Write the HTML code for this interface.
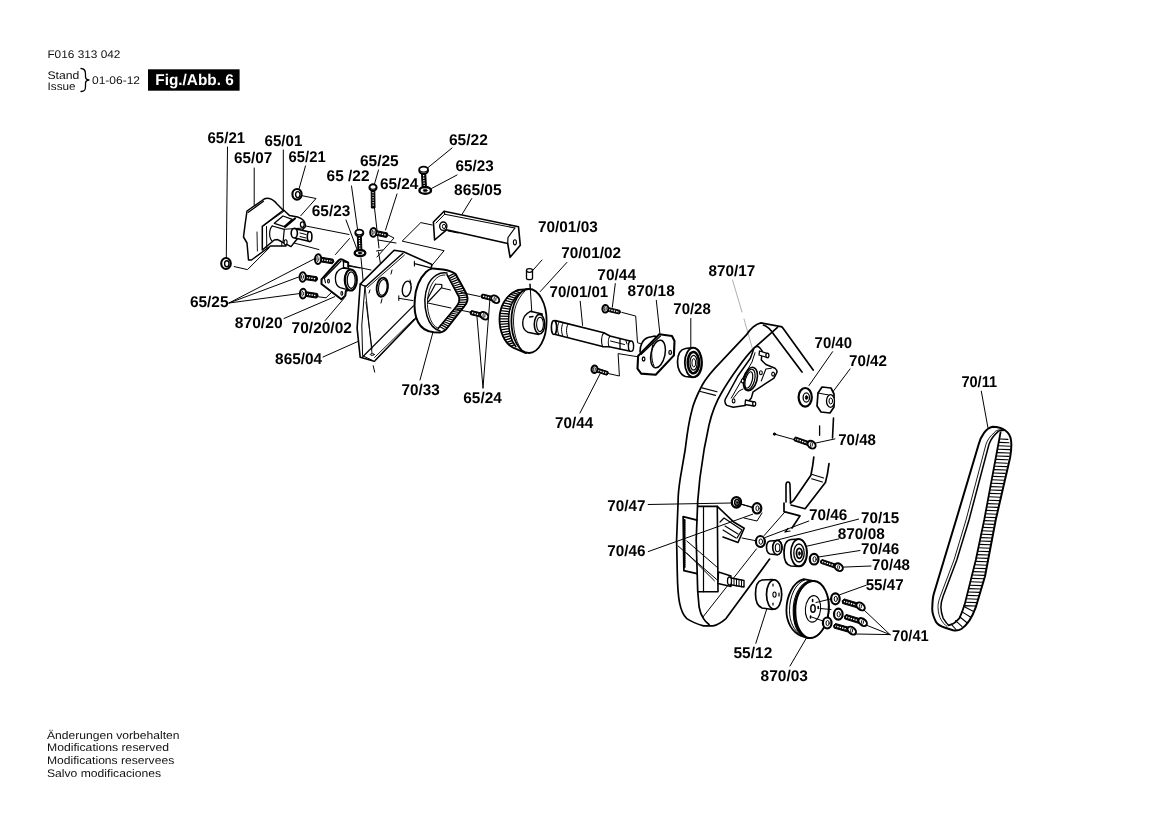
<!DOCTYPE html>
<html><head><meta charset="utf-8"><style>
html,body{margin:0;padding:0;background:#fff;width:1168px;height:826px;overflow:hidden}
svg{position:absolute;left:0;top:0;display:block;filter:grayscale(1)}
text{text-rendering:geometricPrecision}
</style></head><body>
<svg width="1168" height="826" viewBox="0 0 1168 826">
<g font-family="'Liberation Sans', sans-serif" fill="#111" opacity="0.995">
<text x="47.4" y="57.6" font-size="11" textLength="73" lengthAdjust="spacingAndGlyphs">F016 313 042</text>
<text x="47.4" y="78.7" font-size="11" textLength="32" lengthAdjust="spacingAndGlyphs">Stand</text>
<text x="47.6" y="89.8" font-size="11" textLength="28" lengthAdjust="spacingAndGlyphs">Issue</text>
<text x="92" y="84" font-size="11" textLength="48" lengthAdjust="spacingAndGlyphs">01-06-12</text>
<rect x="148" y="69.3" width="91.6" height="21.4" fill="#000"/>
<text x="155.3" y="85" font-size="15.5" font-weight="bold" fill="#fff" textLength="78.5" lengthAdjust="spacingAndGlyphs">Fig./Abb. 6</text>
<text x="47" y="738.5" font-size="11" textLength="132.5" lengthAdjust="spacingAndGlyphs">Änderungen vorbehalten</text>
<text x="47" y="751.2" font-size="11" textLength="122" lengthAdjust="spacingAndGlyphs">Modifications reserved</text>
<text x="47" y="764" font-size="11" textLength="127.2" lengthAdjust="spacingAndGlyphs">Modifications reservees</text>
<text x="47" y="776.8" font-size="11" textLength="114" lengthAdjust="spacingAndGlyphs">Salvo modificaciones</text>
</g>
<g font-family="'Liberation Sans', sans-serif" font-weight="bold" font-size="15.5" fill="#000" opacity="0.995">
<text x="207.5" y="142.7" textLength="37.6" lengthAdjust="spacingAndGlyphs">65/21</text>
<text x="264.6" y="146.0" textLength="37.7" lengthAdjust="spacingAndGlyphs">65/01</text>
<text x="234.1" y="163.4" textLength="38.2" lengthAdjust="spacingAndGlyphs">65/07</text>
<text x="288.6" y="161.6" textLength="37.1" lengthAdjust="spacingAndGlyphs">65/21</text>
<text x="449.0" y="144.8" textLength="38.8" lengthAdjust="spacingAndGlyphs">65/22</text>
<text x="359.9" y="165.9" textLength="38.8" lengthAdjust="spacingAndGlyphs">65/25</text>
<text x="326.6" y="181.1" textLength="42.9" lengthAdjust="spacingAndGlyphs">65 /22</text>
<text x="379.9" y="188.7" textLength="38.5" lengthAdjust="spacingAndGlyphs">65/24</text>
<text x="455.6" y="170.8" textLength="38.2" lengthAdjust="spacingAndGlyphs">65/23</text>
<text x="454.1" y="194.7" textLength="47.6" lengthAdjust="spacingAndGlyphs">865/05</text>
<text x="311.8" y="216.2" textLength="38.6" lengthAdjust="spacingAndGlyphs">65/23</text>
<text x="189.9" y="306.7" textLength="38.6" lengthAdjust="spacingAndGlyphs">65/25</text>
<text x="234.8" y="327.9" textLength="47.8" lengthAdjust="spacingAndGlyphs">870/20</text>
<text x="291.6" y="332.8" textLength="60.3" lengthAdjust="spacingAndGlyphs">70/20/02</text>
<text x="275.1" y="363.5" textLength="47.1" lengthAdjust="spacingAndGlyphs">865/04</text>
<text x="537.9" y="231.9" textLength="59.9" lengthAdjust="spacingAndGlyphs">70/01/03</text>
<text x="561.3" y="258.0" textLength="59.7" lengthAdjust="spacingAndGlyphs">70/01/02</text>
<text x="597.3" y="279.6" textLength="38.7" lengthAdjust="spacingAndGlyphs">70/44</text>
<text x="549.6" y="296.8" textLength="58.6" lengthAdjust="spacingAndGlyphs">70/01/01</text>
<text x="401.6" y="394.9" textLength="38.2" lengthAdjust="spacingAndGlyphs">70/33</text>
<text x="463.3" y="403.0" textLength="38.6" lengthAdjust="spacingAndGlyphs">65/24</text>
<text x="555.1" y="428.1" textLength="38.1" lengthAdjust="spacingAndGlyphs">70/44</text>
<text x="627.6" y="296.1" textLength="47.2" lengthAdjust="spacingAndGlyphs">870/18</text>
<text x="673.3" y="313.6" textLength="37.5" lengthAdjust="spacingAndGlyphs">70/28</text>
<text x="708.5" y="276.0" textLength="46.7" lengthAdjust="spacingAndGlyphs">870/17</text>
<text x="814.6" y="347.5" textLength="37.4" lengthAdjust="spacingAndGlyphs">70/40</text>
<text x="849.0" y="365.5" textLength="38.0" lengthAdjust="spacingAndGlyphs">70/42</text>
<text x="838.2" y="444.6" textLength="37.7" lengthAdjust="spacingAndGlyphs">70/48</text>
<text x="809.1" y="519.7" textLength="38.3" lengthAdjust="spacingAndGlyphs">70/46</text>
<text x="861.0" y="522.9" textLength="38.1" lengthAdjust="spacingAndGlyphs">70/15</text>
<text x="837.7" y="539.0" textLength="47.1" lengthAdjust="spacingAndGlyphs">870/08</text>
<text x="861.0" y="554.0" textLength="38.1" lengthAdjust="spacingAndGlyphs">70/46</text>
<text x="872.1" y="570.4" textLength="37.9" lengthAdjust="spacingAndGlyphs">70/48</text>
<text x="865.7" y="589.8" textLength="37.9" lengthAdjust="spacingAndGlyphs">55/47</text>
<text x="892.0" y="641.2" textLength="36.8" lengthAdjust="spacingAndGlyphs">70/41</text>
<text x="607.3" y="510.5" textLength="38.2" lengthAdjust="spacingAndGlyphs">70/47</text>
<text x="607.3" y="556.2" textLength="38.2" lengthAdjust="spacingAndGlyphs">70/46</text>
<text x="733.4" y="657.8" textLength="38.9" lengthAdjust="spacingAndGlyphs">55/12</text>
<text x="760.6" y="680.5" textLength="47.4" lengthAdjust="spacingAndGlyphs">870/03</text>
<text x="961.4" y="387.2" textLength="35.7" lengthAdjust="spacingAndGlyphs">70/11</text>
</g>
<g fill="none" stroke="#000" stroke-linecap="round" stroke-linejoin="round">
<!-- header brace -->
<path d="M81,68.5 C85,68.5 85.5,71 85.5,74 L85.5,76.5 C85.5,79 86.5,79.8 89,80 C86.5,80.2 85.5,81 85.5,83.5 L85.5,86.5 C85.5,89.5 85,91.5 81,91.5" stroke-width="1.3"/>

<!-- ===== Leader lines (thin) ===== -->
<g stroke-width="1">
<path d="M227.5,147 L226.3,258"/>
<path d="M254.2,168 L254.2,205"/>
<path d="M283.3,150 L283.3,211"/>
<path d="M305.5,166 L299,189"/>
<!-- motor assembly lines -->
<path d="M302,195.7 L316,198.5 L300.8,215.7"/>
<path d="M305.7,226 L349,234.5"/>
<path d="M294,243 L319,249.6"/>
<path d="M234.2,266.6 L247.5,269.6 L269.3,247.8"/>
<!-- 65/25 leaders -->
<path d="M229,303 L315,258.5 M229,303 L300,276.5 M229,303 L300,293.5"/>
<!-- 870/20, 70/20/02, 865/04 leaders -->
<path d="M284,318.5 L334.7,296.7"/>
<path d="M317.8,296.7 L326,297.8 L332.6,291.4"/>
<path d="M325.2,320.5 L344.3,298"/>
<path d="M323,357 L359,341"/>
<!-- 65/23 left leader -->
<path d="M346,220 L358,252"/>
<path d="M349.5,238.5 L335.5,254.5"/>
<!-- 65 /22 leader -->
<path d="M351.5,186 L357.5,229"/>
<!-- 65/25 top leader -->
<path d="M378.5,170 L374.5,184"/>
<path d="M374.5,208 L379,248 M378.5,252 L381,267 M376.5,251 L382.5,250"/>
<!-- 65/24 leader -->
<path d="M397,194 L385.5,230"/>
<path d="M388,235 L394,238 L377,257"/>
<!-- 65/23 line down from washer -->
<path d="M361,258 L364,290 M373.2,365.8 L374.7,372.1"/>
<path d="M359,340 L362,310"/>
<!-- 65/22 and 65/23 leaders -->
<path d="M452,148 L427.5,168"/>
<path d="M457,175 L431.5,188.5"/>
<path d="M471.7,198.6 L462.1,214.2"/>
<!-- assembly parallelogram near 865/05 -->
<path d="M432.2,225 L420.8,222.6 L402.2,241.1 L444.1,250.7 L432.2,265.1"/>
<!-- motor axis lines through bracket -->
<path d="M348,266 L360,268"/>
<path d="M378,240 L396,243"/>
<!-- flange to bracket line -->
<path d="M347,265 L371,270"/>
<!-- 70/33 leader -->
<path d="M420,380 L433,332"/>
<!-- belt axis lines -->
<!-- 65/24 lower leaders -->
<path d="M483,388 L490,298 M483,388 L477,317"/>
<!-- 70/01/03, 70/01/02 leaders -->
<path d="M542,260 L531.8,271.5"/>
<path d="M566.9,262.4 L540.3,291.5"/>
<path d="M530,284.2 L531.8,313.3"/>
<!-- 70/01/01 leader -->
<path d="M580.2,301.2 L582.6,325.4"/>
<!-- 70/44 top leader, assembly -->
<path d="M615.3,283.6 L612.3,307.2"/>
<path d="M621.8,312.4 L635.7,316 L637.5,342.7 L641.2,343.9"/>
<path d="M608.5,373.6 L619.4,376 L618.1,353.6 L636.9,356.6"/>
<!-- 70/44 bottom leader -->
<path d="M580,413 L600,374"/>
<!-- 870/18 leader -->
<path d="M656.3,300.3 L659.9,333.6"/>
<!-- 70/28 leader -->
<path d="M690.8,318.5 L690.8,347"/>
<!-- 870/17 leader (light) -->
<path d="M732.5,280 L742,312 M744,319 L752.5,349" stroke="#99a" stroke-width="0.8"/>
<!-- 70/40, 70/42 leaders -->
<path d="M832.6,351.7 L809,385.5"/>
<path d="M850,369 L832,393"/>
<!-- 70/48 screw -->
<path d="M774.5,434.1 L794.2,439.6"/>
<path d="M814.5,443.3 L834.9,438.9"/>
<path d="M819.6,425.8 L819.6,435.3" stroke-width="1.3"/>
<path d="M833.5,418 L832.5,438" stroke-width="1.6"/>
<!-- 70/47 and 70/46 left leaders -->
<path d="M648.2,504.5 L732,503"/>
<path d="M740,504 L752,507"/>
<path d="M648.2,551.6 L752.7,514.2"/>
<path d="M762,513 L757,521 L744,518"/>
<!-- tensioner leaders -->
<path d="M765.2,537.5 L808.8,521"/>
<path d="M775.9,540.4 L858.6,519.1"/>
<path d="M764.2,535.5 L784.6,512.3"/>
<path d="M806.8,546.2 L838.8,538.9"/>
<path d="M818.5,557 L860,550.5"/>
<path d="M841,567.2 L871,566"/>
<path d="M742,538 L757,541"/>
<!-- 55/47, 70/41 leaders -->
<path d="M866,585.3 L839.8,594.7"/>
<path d="M890,634.6 L864,610 M890,634.6 L866,625 M890,634.6 L855.5,634"/>
<!-- 55/12, 870/03 leaders -->
<path d="M767.4,607 L755.8,643.3"/>
<path d="M807,637 L790,666"/>
<!-- 70/11 leader -->
<path d="M981.3,391.2 L988,428"/>
</g>
<!-- ===== Motor 65/07 / 65/01 ===== -->
<g stroke-width="1.5" fill="#fff">
<!-- plate -->
<path d="M247,211 L262,200.5 C266,197 272,197.5 277,204 L283,210 L286,246 L270.5,246 L251.5,260 L248.5,260 L247,243 L243.5,237 L245,225 Z"/>
<path d="M248.3,212.3 L263.5,201.3" stroke-width="1.3"/>
<path d="M257,232 L257.4,251" stroke-width="0.9"/>
<!-- body -->
<path d="M262.3,226.3 L283.6,210 L289.6,215.6 L297.6,217 C301,218 304,220 305,223.3 C306,226 305,228 303.6,228 L300,236 L296.3,240 L291,246.6 L280.3,241 L277.6,239.6 L274.3,240 L262.3,250 Z"/>
<path d="M264.3,225 L283.6,211.5 M266.5,226.5 L266.8,248.5" stroke-width="1"/>
<path d="M274.3,223.3 L283,216 L292.3,219.3 L284.3,226.6 Z" stroke-width="1.3"/>
<path d="M285,226.8 L295,218.5" stroke-width="2.2"/>
<path d="M272.3,226 L284.3,229.3 L283,242.6" stroke-width="1.2"/>
<path d="M272.3,226 C269,229 268.5,238 272.3,241.3" stroke-width="1.2"/>
<path d="M284.3,229.3 L303.6,228" stroke-width="1.1"/>
<path d="M281.8,241.5 L281.8,246" stroke-width="1"/>
<ellipse cx="302.3" cy="224.6" rx="1.9" ry="2.8" stroke-width="1.3"/>
<ellipse cx="285.6" cy="242.3" rx="1.5" ry="2.6" stroke-width="1.1"/>
<!-- shaft -->
<path d="M295,228.6 L309.6,232 L308.8,241.3 L295,238 Z" stroke-width="1.6"/>
<ellipse cx="294.3" cy="233.2" rx="3.1" ry="4.8" stroke-width="1.6"/>
<ellipse cx="309.6" cy="236.7" rx="2.3" ry="4.9" stroke-width="1.6"/>
<path d="M300,233 L306,234.5 M300,236.5 L306,238" stroke-width="1"/>
</g>
<!-- nuts 65/21 -->
<g stroke-width="2.1" fill="#fff">
<ellipse cx="297" cy="194.3" rx="4.6" ry="5.3"/>
<ellipse cx="297.8" cy="194.6" rx="2.2" ry="3" stroke-width="1.4"/>
<path d="M293.5,191 L295,190 M293.5,198 L295,199" stroke-width="1"/>
<ellipse cx="226" cy="263.5" rx="4.8" ry="5.5"/>
<ellipse cx="226.8" cy="263.7" rx="2.2" ry="3" stroke-width="1.4"/>
</g>

<!-- ===== Bracket 865/04 ===== -->
<g stroke-width="1.6" fill="#fff">
<path d="M360.2,284.1 L394.1,250.2 L403.5,251.8 L432,264.5 L430,272 L416,318 L374.4,361.3 L360.2,357.3 L357.1,328.2 Z"/>
<path d="M365.7,286.5 L403,253.2" stroke-width="1.4"/>
<path d="M367.5,287.5 L404.5,255" stroke-width="0.9"/>
<path d="M360.2,284.1 L365.7,286.5" stroke-width="1.2"/>
<path d="M365,285.7 L361.8,325 L362.6,355.7 L374.4,361.3" stroke-width="1"/>
<path d="M365,286 L372,353.4" stroke-width="0.9"/>
<path d="M362.5,357 L413.4,305.8" stroke-width="1.2"/>
<path d="M366,302 L372,349" stroke-width="0.9"/>
<ellipse cx="372.3" cy="354.5" rx="2" ry="0.9" stroke-width="1"/>
<path d="M374.5,357.5 L414,319" stroke-width="0.9"/>
<ellipse cx="382.3" cy="287.2" rx="5.6" ry="9.6" transform="rotate(8 382.3 287.2)" stroke-width="1.9"/>
<ellipse cx="382.8" cy="287.4" rx="4.2" ry="8" transform="rotate(8 382.8 287.4)" stroke-width="1.1"/>
<ellipse cx="406.7" cy="288.8" rx="4.3" ry="7.8" transform="rotate(10 406.7 288.8)" stroke-width="1.4"/>
<path d="M410,280 L411,284 M370,290 L369,293 M382,299 L381,303 M392,270 L391,274" stroke-width="1"/>
<path d="M398.8,298.3 L413,300.6 M398.8,295.8 L398.8,300.5" stroke-width="1"/>
<path d="M414.6,263.6 L430,267.6 M414.4,261.2 L414.4,266" stroke-width="1.1"/>
</g>

<!-- ===== Flange 870/20 ===== -->
<g stroke-width="2" fill="#fff">
<path d="M321.5,279.4 L338.5,260.5 C339.5,259.2 341,259 342.5,259.6 L348.2,262.6 L348.2,268.4 L352,272 L349,289.9 L345.9,291 L345.3,295.7 L341.3,299.2 L321.5,284 Z"/>
<path d="M324.4,278.2 L341,261" stroke-width="1.2"/>
<path d="M324.4,278.2 L325.5,282.8" stroke-width="1.1"/>
<path d="M343,261.5 L348.2,262.6 M343.5,261.6 L343.5,267.5 L348.2,268.4" stroke-width="1.3"/>
<path d="M342.4,268.1 C337,270 335.4,274 335.4,278.3 C335.4,283 337,286.5 340.1,287.6 L348.2,289.9 L350.6,269.2 Z" stroke-width="1.3"/>
<ellipse cx="350.8" cy="280" rx="6" ry="10.5" stroke-width="2.2"/>
<ellipse cx="351.2" cy="280.2" rx="4" ry="8.3" stroke-width="1.3"/>
<ellipse cx="328.5" cy="281.2" rx="0.9" ry="1.8" stroke-width="1.1"/>
<ellipse cx="341.8" cy="293.4" rx="0.9" ry="1.8" stroke-width="1.1"/>
</g>
<!-- ===== Bracket 865/05 ===== -->
<g stroke-width="1.6" fill="#fff">
<path d="M433.4,222 L444.1,211.2 L518.5,226.8 L520.3,245.3 L510.1,257.3 L507.7,243.5 L446.5,229.8 L434.6,240 Z"/>
<path d="M444.7,214.2 L514.9,228 M444.1,211.2 L444.7,214.2" stroke-width="1.1"/>
<path d="M514.9,228 L508,237.5 L507.7,243.5" stroke-width="1.2"/>
<path d="M436,223 L444.7,214.2" stroke-width="1"/>
<ellipse cx="443.3" cy="226.2" rx="3.6" ry="4.2" stroke-width="1.4"/>
<ellipse cx="444" cy="226.4" rx="1.6" ry="2.2" stroke-width="1"/>
<ellipse cx="514.9" cy="242.3" rx="1.5" ry="2.6" stroke-width="1.1"/>
<path d="M448,231 L458,233" stroke-width="1"/>
</g>

<!-- ===== Shaft 70/01/01 ===== -->
<g stroke-width="1.6" fill="#fff">
<path d="M555.4,320.6 L603.8,332.7 L609.9,336 L630,341 L630.5,351.3 L609,346.8 L602.6,346.6 L555.4,334.5 Z"/>
<ellipse cx="554" cy="327.5" rx="2.6" ry="7" stroke-width="1.6"/>
<path d="M559,322 C557,326 557,331 559,335.5 M563,323 C561,327 561,332 563,336.5 M568,324 C566,328 566,333 568,337.5" stroke-width="1"/>
<path d="M603.8,332.7 C601,336 601,343 602.6,346.6 M609.9,336 C608,339 608,344 609,346.8" stroke-width="1.1"/>
<path d="M620,339.5 L620,349" stroke-width="1.3"/>
<path d="M610.5,341 L624.5,344.5" stroke-width="1"/>
<ellipse cx="631" cy="346.2" rx="2.6" ry="5.2" stroke-width="1.4"/>
<path d="M626,341 L627,344" stroke-width="1"/>
</g>

<!-- ===== Flange 870/18 ===== -->
<g stroke-width="2.1" fill="#fff">
<path d="M640,352 C640,345 643,339 648,337.5 L655,336 L660,345 L650,360 Z" stroke-width="1.6"/>
<path d="M638.1,356 L659.3,334.2 L672,336 L674.5,340.9 L673.9,355.4 L655.7,374.8 L641.2,373.6 L637.5,368.7 Z"/>
<path d="M641,354.5 L660.5,336" stroke-width="1.1"/>
<ellipse cx="658" cy="354" rx="7" ry="14" transform="rotate(12 658 354)" stroke-width="1.5"/>
<path d="M653.5,342 C651,349 651,360 654,366" stroke-width="1" fill="none"/>
<ellipse cx="643.6" cy="359" rx="1.3" ry="2" stroke-width="1.3"/>
<ellipse cx="670.2" cy="352.4" rx="1.3" ry="2" stroke-width="1.3"/>
</g>
<!-- ===== Bearing 70/28 ===== -->
<g stroke-width="1.7" fill="#fff">
<path d="M685.5,348.5 L693,347.7 C699,348 702,355 702,362.7 C702,371 699,377 693,377.3 L685.5,376.5 C680,375 677.5,368 677.5,362 C677.5,355 680,349.5 685.5,348.5 Z"/>
<ellipse cx="693.2" cy="362.5" rx="8.4" ry="14.6" stroke-width="1.8"/>
<ellipse cx="693.4" cy="362.6" rx="5.6" ry="10.6" fill="none" stroke-width="2.6" stroke-dasharray="2.2 0.9"/>
<ellipse cx="693.6" cy="362.8" rx="3.6" ry="7.4" stroke-width="1.2"/>
<ellipse cx="693.8" cy="362.8" rx="1.9" ry="4.2" stroke-width="1"/>
</g>
<!-- ===== Housing 870/17 ===== -->
<g stroke-width="1.7" fill="none">
<!-- outer loop -->
<path d="M813.2,370.1 L782.5,327.5 C782,327 781.5,326.8 781,326.7 L761,322.9 C756,324 751,328 746.1,335.2 L720.9,361.9 C712,371 706,378 702,385.5 C696,397 693,405 691.8,410.7 C688,425 687,435 685.3,449 L680.3,478.1 C678.5,490 678,497 678.1,501.4 L676.6,540 L677.3,573.6 C677.5,585 678,595 679.5,602.6 C681,610 683,615 686.8,618.6 C692,622 697,624 703.5,625.9 L713,625.9 C718,625 722,622 726,618.6 L769.6,559.1"/>
<!-- inner loop -->
<path d="M802,372.1 L774.4,335.2 C771,330 767,326 763.4,325"/>

<path d="M777.5,327.3 L754,348.2 C745,357 730,378 722,392 C716,402 712,412 709,425 L706,440 L704.2,449 L699.9,478.1 L697.7,501.4 L696.2,540 L697.7,591 L699.1,607 C700,612 701,615 703.5,618.6 C705,621 707,623 709,624.5"/>
<path d="M702.8,617.2 L756.5,548.9" stroke-width="1"/>
<path d="M702,387.9 L717,391.8 M700.5,391.5 L715.5,395.4" stroke-width="1.1"/>
</g>
<!-- right arm lower -->
<g stroke-width="1.7" fill="none">
<path d="M813.8,457.1 C813,465 812,470 810.9,475.2 L793.4,500.7 L790.5,503"/>
<path d="M829,463.6 C828,472 827,477 825.4,482.5 L805.1,508.7 L791,505"/>
<path d="M786,502 L786,485 C786,481 790,481 790,485 L790.5,503" stroke-width="1.6"/>
<path d="M784,503 L784,511.6 L800,515.9 L792,528"/>
<path d="M812.3,474.5 L823.6,478 M811.6,478.8 L822.5,482" stroke-width="1.1"/>
<path d="M785,532 L788,528.5 M785,532 L790,531" stroke-width="1.2"/>
</g>
<!-- Mounting plate on housing -->
<g stroke-width="1.5" fill="#fff">
<path d="M726.8,405.4 C724.5,403 724.5,401 725.4,399 L737.7,376.3 L750.4,358.2 L754,348.2 C756,346 758,346 759.5,347.5 L762.2,350.9 L761.3,360 L765.9,364.5 L775,368.2 C777,370 777.5,371 776.8,372.7 L774,378.1 L753.1,391.8 L751.3,398.1 L745,405.4 L733.2,407.2 Z"/>
<path d="M731.3,398.1 L752,362 L755,352.7" stroke-width="1"/>
<ellipse cx="750.4" cy="379" rx="6.6" ry="12" transform="rotate(15 750.4 379)" stroke-width="1.6"/>
<ellipse cx="749.6" cy="379.5" rx="5" ry="10.5" transform="rotate(15 749.6 379.5)" stroke-width="1.2"/>
<ellipse cx="748.8" cy="380" rx="3.4" ry="8.5" transform="rotate(15 748.8 380)" stroke-width="1.2"/>
<path d="M761.3,380.9 L765.9,369 L771.3,368.2" stroke-width="1.1"/>
<path d="M733.5,398 L739,391 L743,389" stroke-width="1"/>
<ellipse cx="733.6" cy="400.9" rx="1.4" ry="2" stroke-width="1.1"/>
<ellipse cx="742.7" cy="380.9" rx="1.4" ry="2" stroke-width="1.1"/>
<ellipse cx="760.9" cy="372.7" rx="1.4" ry="2" stroke-width="1.1"/>
<ellipse cx="773.1" cy="374.1" rx="1.4" ry="2" stroke-width="1.1"/>
<path d="M759.5,351 L767.5,353.5 L767,357.5 L759,355 Z" stroke-width="1.3"/>
<ellipse cx="767.4" cy="355.4" rx="1.5" ry="2.2" stroke-width="1.3"/>
<path d="M745.5,400 L754,402 L753.8,406 L745,404.5 Z" stroke-width="1.3"/>
<ellipse cx="754.2" cy="403.8" rx="1.5" ry="2.2" stroke-width="1.3"/>
</g>
<!-- washer 70/40, nut 70/42 -->
<g stroke-width="1.7" fill="#fff">
<ellipse cx="805.2" cy="397.3" rx="6.6" ry="9.3" stroke-width="2.2"/>
<ellipse cx="806.3" cy="397.5" rx="3.2" ry="4.6" stroke-width="1.3"/>
<ellipse cx="806.5" cy="397.6" rx="1.2" ry="2" fill="#000" stroke-width="0.8"/>
<path d="M818,393 L822,387 L831,388 L834,394 L834,407 L830,413 L821,412 L817,406 Z"/>
<ellipse cx="830.5" cy="401" rx="4" ry="6.3" stroke-width="1.3"/>
<ellipse cx="830.8" cy="401" rx="1.8" ry="3" stroke-width="1"/>
<path d="M818,393 L826,394.5 L828,394.7" stroke-width="1"/>
</g>
<ellipse cx="774.5" cy="434.1" rx="1.2" ry="1.2" fill="#000"/>
<!-- ===== Inner bracket in housing ===== -->
<g stroke-width="1.6" fill="none">
<path d="M697.7,506.4 L717.3,506.4 L718,591.7 L697.7,591.7"/>
<path d="M703.5,506.4 L703.5,591.7" stroke-width="1.2"/>
<path d="M683.2,516.6 L697,520.2 M683.2,516.6 L683.9,570.7 L697,573.6" stroke-width="1.8"/>
<path d="M684.5,520 L684.5,568" stroke-width="2.2" stroke-dasharray="1 1"/>
<path d="M717.3,506.4 L733.3,521.7 L744.2,528.2 L738,542.5 L723,537"/>
<path d="M720,522 L724,518 L742,530 L737,538" stroke-width="1.2"/>
<path d="M725,526 L738,534 M723,530 L736,538" stroke-width="1.1"/>
</g>
<g stroke-width="1" fill="none">
<path d="M678.1,546 L716.6,579.4 M686.8,541 L718,568 M686.8,553.2 L714.4,580.8"/>
<path d="M718,579.5 L720.5,584"/>
</g>
<!-- stud -->
<g stroke-width="1.4" fill="#fff">
<path d="M718.5,572 L731,576 L731,586.5 L718,583.5 Z"/>
<path d="M729,577.5 L744,580.5 L744,587 L729,584.5 Z"/>
<path d="M731.5,578 L731.5,585 M734,578.5 L734,585.5 M736.5,579 L736.5,586 M739,579.5 L739,586.5 M741.5,580 L741.5,587" stroke-width="1"/>
<ellipse cx="729.5" cy="581" rx="2" ry="4" stroke-width="1.3"/>
</g>
<!-- nut 70/47, washers 70/46 -->
<g stroke-width="1.7" fill="#fff">
<ellipse cx="736.4" cy="502.3" rx="4.6" ry="5.2" stroke-width="2.3"/>
<ellipse cx="737" cy="502.4" rx="2.3" ry="2.9" stroke-width="1.6"/>
<ellipse cx="737.2" cy="502.5" rx="0.9" ry="1.3" fill="#000" stroke-width="0.6"/>
<path d="M741,504 L752,507.5" stroke-width="1.3"/>
<ellipse cx="757" cy="508.3" rx="4.3" ry="5.2" stroke-width="2.2"/>
<ellipse cx="757.5" cy="508.3" rx="1.6" ry="2.5" stroke-width="1"/>
<ellipse cx="760.4" cy="541.5" rx="4.5" ry="5.5" stroke-width="2.2"/>
<ellipse cx="760.8" cy="541.6" rx="1.8" ry="2.7" stroke-width="1"/>
</g>

<!-- spacer 70/15 -->
<g stroke-width="1.6" fill="#fff">
<path d="M770,541 L777,540.5 C781,541 782,545 782,547.6 C782,551 780,554.5 777,554.8 L770,554 C767.5,553 766.5,550 766.5,547.5 C766.5,544.5 767.5,541.5 770,541 Z"/>
<ellipse cx="777.3" cy="547.6" rx="4.6" ry="7.2"/>
<ellipse cx="777.6" cy="547.7" rx="2.3" ry="4" stroke-width="1.1"/>
</g>
<!-- idler 870/08 -->
<g stroke-width="1.7" fill="#fff">
<path d="M791,539.5 L799,539 C805,540 807,547 807,552.7 C807,559 805,566 799,566.5 L791,566 C786,565 784,559 784,552.7 C784,546 786,540 791,539.5 Z"/>
<ellipse cx="798.8" cy="552.7" rx="8" ry="13.5"/>
<ellipse cx="799" cy="553" rx="5.2" ry="9" stroke-width="1.3"/>
<ellipse cx="799.3" cy="553.3" rx="2.8" ry="5" stroke-width="1.8"/>
<ellipse cx="799.4" cy="553.4" rx="1" ry="2" fill="#000" stroke-width="0.5"/>

</g>
<!-- washer + screw 70/46 70/48 lower -->
<g stroke-width="1.6" fill="#fff">
<ellipse cx="814.1" cy="559.2" rx="4.3" ry="5.3" stroke-width="2.2"/>
<ellipse cx="814.6" cy="559.3" rx="1.6" ry="2.6" stroke-width="1"/>
</g>

<!-- spacer 55/12 -->
<g stroke-width="1.7" fill="#fff">
<path d="M762,580 L772.5,579.5 C779,581 781,588 781,594.5 C781,602 778,609 772.5,609.5 L762,608 C757,606 755.5,600 755.5,594 C755.5,587 757,581 762,580 Z"/>
<ellipse cx="774.1" cy="594.5" rx="7.6" ry="14.6"/>
<ellipse cx="774.5" cy="594.6" rx="1.6" ry="2.6" stroke-width="1.1"/>
<path d="M773,584 L773,586 M773,603 L773,605 M779,593 L779,596" stroke-width="1.2"/>
</g>
<!-- pulley 870/03 -->
<g stroke-width="1.8" fill="#fff">
<path d="M803.7,579.2 L813,580.9 C823,582 828.7,595 828.7,607.2 C828.7,624 820,638 808,638.1 L801.2,636 C792,632 786.4,622 786.4,610.6 C786.4,596 793,582 803.7,579.2 Z"/>
<path d="M805,579.8 C795.5,583 789.5,596 789.5,610.6 C789.5,622 794,631 801.5,635.5" stroke-width="1" fill="none"/>
<ellipse cx="811.5" cy="609.5" rx="17.2" ry="28.6" transform="rotate(5 811.5 609.5)" stroke-width="1.9"/>
<path d="M810.5,581.5 C801,585 795.5,597 795.5,610.6 C795.5,624 800,633 806,637" stroke-width="1.6" fill="none"/>
<path d="M808,581.2 C799,585 793.2,597 793.2,610.6 C793.2,624 797.5,633 803.5,636.5" stroke-width="1.1" fill="none"/>
<ellipse cx="813" cy="608.9" rx="7.6" ry="13.3" transform="rotate(5 813 608.9)" stroke-width="1.1"/>
<ellipse cx="813" cy="608.5" rx="2.2" ry="3.8" stroke-width="1.5"/>
<path d="M812.6,599.5 L812.6,601.5 M818.2,606.5 L818.2,608.5 M810.5,616 L810.5,618" stroke-width="1.6"/>
<path d="M816,602.5 L830.5,599 M820,608.5 L831,609.5 M811.5,617 L824.5,621.5" stroke-width="1" fill="none"/>
</g>
<!-- washers 55/47 and screws 70/41 -->
<g stroke-width="1.6" fill="#fff">
<ellipse cx="835.4" cy="598.8" rx="4.3" ry="5.5" stroke-width="2.2"/>
<ellipse cx="835.8" cy="598.9" rx="1.6" ry="2.6" stroke-width="1"/>
<ellipse cx="838.3" cy="614.2" rx="4.3" ry="5.5" stroke-width="2.2"/>
<ellipse cx="838.7" cy="614.3" rx="1.6" ry="2.6" stroke-width="1"/>
<ellipse cx="827.2" cy="623" rx="4.3" ry="5.5" stroke-width="2.2"/>
<ellipse cx="827.6" cy="623.1" rx="1.6" ry="2.6" stroke-width="1"/>
</g>

<!-- ===== Belt 70/11 ===== -->
<g fill="none">
<path d="M992.6,426.7 C1003,427 1010,432 1011,440 C1012,447 1011,452 1010,458 L995.7,520 L985,576.3 L975.8,607.2 C972,618 966,626 961.3,629 C958,631 956,630.5 953.1,630.3 L945.9,628 C940,626 937,624 935.9,621.7 C932.5,615 932,610 932.3,607.2 C932.5,600 933,597 933.6,594.5 L944,560 L956.1,520 L978.7,444.2 C981,436 986,428 992.6,426.7 Z" stroke-width="2"/>
<path d="M1004.7,430.3 C1000,430.5 998,431 997.5,432.1 C993,436 990.5,440 989,444.2 L969,520 L956.8,560 L943.1,596.3 C941,602 940.9,605 940.9,607.2 C941,612 942,615 943.1,618.1 C945,621 946.5,623.5 948.6,625.3" stroke-width="1.5"/>
<path d="M1002,429.5 C997,430 995,431 994.5,432.5 C990,436 987.5,440 986,444.2 L966,520 L954,560 L940.3,596.3 C938.2,602 938,605 938,607.2 C938.2,613 939.5,617 941,619.5 C943,623 945,625 947,626.5" stroke-width="0.9"/>
<path d="M1000.5,432.5 L984.2,520 L975.8,560 L964.9,603.6 C963,610 961,615 959.5,618.1 C956,622 953,624 951.3,624.4 L948.6,625.3" stroke-width="1.8"/>
<path d="M1000.3,439.0 L1007.9,439.4 M999.5,442.4 L1009.0,442.8 M998.8,445.8 L1010.1,446.2 M998.1,449.2 L1010.1,449.6 M997.4,452.6 L1009.4,453.0 M996.7,456.0 L1008.7,456.4 M996.1,459.4 L1008.0,459.8 M995.4,462.8 L1007.3,463.2 M994.7,466.2 L1006.6,466.6 M994.1,469.6 L1005.9,470.0 M993.4,473.0 L1005.2,473.4 M992.7,476.4 L1004.5,476.8 M992.1,479.8 L1003.9,480.2 M991.4,483.2 L1003.2,483.6 M990.7,486.6 L1002.5,487.0 M990.1,490.0 L1001.8,490.4 M989.4,493.4 L1001.1,493.8 M988.7,496.8 L1000.4,497.2 M988.1,500.2 L999.7,500.6 M987.4,503.6 L999.0,504.0 M986.7,507.0 L998.3,507.4 M986.1,510.4 L997.6,510.8 M985.4,513.8 L997.0,514.2 M984.7,517.2 L996.3,517.6 M984.1,520.6 L995.6,521.0 M983.4,524.0 L994.9,524.4 M982.6,527.4 L994.3,527.8 M981.9,530.8 L993.6,531.2 M981.2,534.2 L993.0,534.6 M980.5,537.6 L992.4,538.0 M979.8,541.0 L991.7,541.4 M979.1,544.4 L991.1,544.8 M978.4,547.8 L990.4,548.2 M977.6,551.2 L989.8,551.6 M976.9,554.6 L989.1,555.0 M976.2,558.0 L988.5,558.4 M975.5,561.4 L987.8,561.8 M974.6,564.8 L987.2,565.2 M973.8,568.2 L986.5,568.6 M972.9,571.6 L985.9,572.0 M972.1,575.0 L985.2,575.4 M971.2,578.4 L984.4,578.8 M970.4,581.8 L983.4,582.2 M969.5,585.2 L982.4,585.6 M968.7,588.6 L981.3,589.0 M967.8,592.0 L980.3,592.4 M967.0,595.4 L979.3,595.8 M966.1,598.8 L978.3,599.2 M965.3,602.2 L977.3,602.6 M964.1,605.6 L976.3,606.0 M963.8,606.4 L973.7,611.4 M961.7,611.6 L970.8,617.3 M959.6,616.8 L967.7,623.2 M955.5,620.6 L961.9,626.3 M951.3,624.4 L956.0,629.5" stroke-width="1.1"/>
</g>
<!-- ===== Belt 70/33 ===== -->
<g fill="#fff">
<path d="M432.6,268.4 L443,269.5 C449,270.5 453,272 455.6,274.1 L465,291 C468,296 468.5,300 466,304 L448,327 C445.5,330.5 443,332.2 440,332.5 L433.7,332.2 C426,331.5 421,328 418,322 C415,316 414,308 414.8,299.4 C415.5,288 420,278 426,272 C428,270 430,269 432.6,268.4 Z" stroke-width="2"/>
<path d="M447,273 C440,271.5 432,276 428,285 C424.5,294 424,306 427,316 C429.5,324 433,329 440,331" stroke-width="1.5" fill="none"/>
<path d="M445,275 C439,274.5 434,279 430.5,287 C427,296 426.5,306 429,315 C431,322 434,327 438.3,328.2" stroke-width="0.9" fill="none"/>
<path d="M447,274.7 L459,297.1 C460,300 458.5,304 455.6,307.5 L438.3,328.2" stroke-width="1.7" fill="none"/>
<path d="M448.0,276.6 L454.3,273.5 M449.1,278.6 L456.1,275.0 M450.1,280.5 L457.3,277.2 M451.1,282.4 L458.5,279.4 M452.2,284.4 L459.7,281.5 M453.2,286.3 L461.0,283.7 M454.3,288.2 L462.2,285.9 M455.3,290.2 L463.4,288.1 M456.3,292.1 L464.6,290.3 M457.4,294.1 L465.6,292.5 M458.4,296.0 L466.5,294.8 M458.9,298.0 L466.9,297.2 M458.7,300.2 L466.7,299.7 M458.6,302.4 L466.4,302.2 M457.6,304.3 L465.3,304.4 M456.4,306.2 L464.2,306.7 M455.2,308.0 L462.7,308.6 M453.8,309.7 L461.1,310.6 M452.4,311.4 L459.6,312.5 M451.0,313.0 L458.0,314.5 M449.6,314.7 L456.5,316.4 M448.2,316.4 L454.9,318.4 M446.7,318.1 L453.3,320.3 M445.3,319.8 L451.8,322.3 M443.9,321.5 L450.2,324.2 M442.5,323.1 L448.7,326.2 M441.1,324.8 L446.9,327.9 M439.7,326.5 L444.9,329.4" stroke-width="1.2" fill="none"/>
<path d="M435.5,284 L441.8,284.5 L441.8,287.4 L428.5,301.5 M435.5,284 L427.6,298.8" stroke-width="1.2" fill="none"/>
<path d="M441.8,288 L450.5,290 M461,292.5 L480,296.5 M427.4,302.9 L451,308 M457,309.5 L470.5,312.2" stroke-width="1" fill="none"/>
</g>
<!-- ===== Gear 70/01/02 ===== -->
<g fill="#fff">
<path d="M528.6,289.1 L517.7,290 C505,295 499.5,308 499.5,319.5 C499.5,332 505,344 513.1,347.6 L525.9,353.1 Z" stroke-width="1.8"/>
<path d="M522.2,291.4 C513,298 508.6,308 508.6,319.5 C508.6,332 511,341 515.9,346.7" stroke-width="1.5" fill="none"/>
<path d="M515.2,291.2 L520.3,292.9 M512.8,292.6 L518.4,294.5 M510.5,294.2 L516.8,296.3 M508.5,296.1 L515.2,298.2 M506.6,298.2 L513.8,300.2 M505.0,300.4 L512.6,302.3 M503.6,302.8 L511.5,304.5 M502.4,305.3 L510.6,306.8 M501.4,307.9 L509.9,309.2 M500.6,310.6 L509.4,311.6 M500.0,313.3 L509.0,314.0 M499.7,316.1 L508.7,316.4 M499.5,318.9 L508.6,318.8 M499.6,321.6 L508.6,321.3 M499.8,324.4 L508.7,323.7 M500.2,327.2 L508.9,326.2 M500.8,329.9 L509.1,328.6 M501.5,332.6 L509.4,331.1 M502.5,335.2 L509.9,333.5 M503.7,337.7 L510.5,335.8 M505.1,340.1 L511.2,338.2 M506.7,342.4 L512.1,340.5 M508.5,344.5 L513.1,342.7 M510.7,346.2 L514.4,344.8" stroke-width="1.35" fill="none"/>
<ellipse cx="529" cy="321" rx="17.6" ry="32" stroke-width="1.8"/>
<path d="M525,291 C516,300 513.5,311 513.5,321 C513.5,333 517,344 522,350.5" stroke-width="0.9" fill="none"/>
<path d="M530.4,311.3 L542.2,314 L538.6,334.5 L527.7,332.2 C525,331 522.7,328 522.7,323.1 C522.7,319 525,314 530.4,311.3 Z" stroke-width="1.4"/>
<ellipse cx="539.5" cy="324.2" rx="5.2" ry="9.8" stroke-width="1.6"/>
<ellipse cx="540" cy="324.4" rx="3.4" ry="7.2" stroke-width="1.1"/>
<path d="M529.5,317 L533,316.5" stroke-width="1.3"/>
</g>
<path d="M530,284.2 L531.8,312" stroke-width="1" fill="none"/>
<!-- pin 70/01/03 -->
<g stroke-width="1.3" fill="#fff">
<path d="M526.5,270.5 L526.5,278.5 C526.5,280 532.5,280 532.5,278.5 L532.5,270.5"/>
<ellipse cx="529.5" cy="270.5" rx="3" ry="1.8"/>
</g>
<!-- screws -->
<g stroke="#000">
<path d="M319.6,261.7 L332.3,263.8 Q335.0,261.9 333.1,259.2 L320.3,257.1 Z" fill="#000" stroke-width="1.0"/>
<path d="M321.7,259.7 L332.1,261.4" stroke="#fff" stroke-width="1.4" stroke-dasharray="1.4 1.1" stroke-linecap="butt"/>
<ellipse cx="318.1" cy="259.1" rx="3.1" ry="4.8" fill="#fff" stroke-width="2.0" transform="rotate(2.8 318.1 259.1)"/>
<path d="M317.7,256.5 C316.5,258.1 316.5,260.1 317.7,261.7 M318.9,257.9 L318.7,260.3" fill="none" stroke-width="0.9"/>
<path d="M304.2,279.5 L316.2,281.3 Q318.8,279.3 316.8,276.7 L304.9,275.0 Z" fill="#000" stroke-width="1.0"/>
<path d="M306.3,277.5 L315.9,278.9" stroke="#fff" stroke-width="1.4" stroke-dasharray="1.4 1.1" stroke-linecap="butt"/>
<ellipse cx="302.7" cy="277.0" rx="3.1" ry="4.8" fill="#fff" stroke-width="2.0" transform="rotate(2.5 302.7 277.0)"/>
<path d="M302.3,274.4 C301.1,276.0 301.1,278.0 302.3,279.6 M303.5,275.8 L303.3,278.2" fill="none" stroke-width="0.9"/>
<path d="M304.5,296.2 L316.6,298.1 Q319.3,296.2 317.4,293.5 L305.2,291.6 Z" fill="#000" stroke-width="1.0"/>
<path d="M306.6,294.2 L316.4,295.7" stroke="#fff" stroke-width="1.4" stroke-dasharray="1.4 1.1" stroke-linecap="butt"/>
<ellipse cx="303.0" cy="293.6" rx="3.1" ry="4.8" fill="#fff" stroke-width="2.0" transform="rotate(2.7 303.0 293.6)"/>
<path d="M302.6,291.0 C301.4,292.6 301.4,294.6 302.6,296.2 M303.8,292.4 L303.6,294.8" fill="none" stroke-width="0.9"/>
<path d="M374.7,235.0 L386.3,237.5 Q389.1,235.7 387.3,232.9 L375.6,230.5 Z" fill="#000" stroke-width="1.0"/>
<path d="M376.9,233.1 L386.2,235.1" stroke="#fff" stroke-width="1.4" stroke-dasharray="1.4 1.1" stroke-linecap="butt"/>
<ellipse cx="373.3" cy="232.4" rx="3.1" ry="4.4" fill="#fff" stroke-width="2.0" transform="rotate(3.5 373.3 232.4)"/>
<path d="M372.9,230.0 C371.7,231.4 371.7,233.4 372.9,234.8 M374.1,231.2 L373.9,233.6" fill="none" stroke-width="0.9"/>
<path d="M606.7,311.1 L619.2,314.0 Q621.4,312.6 620.0,310.4 L607.6,307.4 Z" fill="#000" stroke-width="1.0"/>
<path d="M608.9,309.6 L619.0,312.1" stroke="#fff" stroke-width="1.4" stroke-dasharray="1.4 1.1" stroke-linecap="butt"/>
<ellipse cx="605.4" cy="308.8" rx="3" ry="3.8" fill="#fff" stroke-width="2.0" transform="rotate(4.0 605.4 308.8)"/>
<path d="M605.0,306.7 C603.8,307.8 603.8,309.8 605.0,310.9 M606.2,307.6 L606.0,310.0" fill="none" stroke-width="0.9"/>
<path d="M595.6,371.7 L606.8,375.2 Q609.2,374.0 608.0,371.6 L596.8,368.0 Z" fill="#000" stroke-width="1.0"/>
<path d="M597.9,370.4 L606.8,373.2" stroke="#fff" stroke-width="1.4" stroke-dasharray="1.4 1.1" stroke-linecap="butt"/>
<ellipse cx="594.5" cy="369.3" rx="3" ry="3.8" fill="#fff" stroke-width="2.0" transform="rotate(5.3 594.5 369.3)"/>
<path d="M594.1,367.2 C592.9,368.3 592.9,370.3 594.1,371.4 M595.3,368.1 L595.1,370.5" fill="none" stroke-width="0.9"/>
<path d="M493.8,296.7 L482.5,294.0 Q480.0,295.5 481.5,298.0 L492.8,300.8 Z" fill="#000" stroke-width="1.0"/>
<path d="M491.6,298.3 L482.6,296.1" stroke="#fff" stroke-width="1.4" stroke-dasharray="1.4 1.1" stroke-linecap="butt"/>
<ellipse cx="495.2" cy="299.2" rx="3.2" ry="4.5" fill="#fff" stroke-width="2.0" transform="rotate(-49.9 495.2 299.2)"/>
<path d="M494.8,296.7 C493.6,298.2 493.6,300.2 494.8,301.7 M496.0,298.0 L495.8,300.4" fill="none" stroke-width="0.9"/>
<path d="M482.8,313.3 L471.5,310.6 Q469.0,312.1 470.5,314.6 L481.8,317.4 Z" fill="#000" stroke-width="1.0"/>
<path d="M480.6,314.9 L471.6,312.7" stroke="#fff" stroke-width="1.4" stroke-dasharray="1.4 1.1" stroke-linecap="butt"/>
<ellipse cx="484.2" cy="315.8" rx="3.2" ry="4.5" fill="#fff" stroke-width="2.0" transform="rotate(-49.9 484.2 315.8)"/>
<path d="M483.8,313.3 C482.6,314.8 482.6,316.8 483.8,318.3 M485.0,314.6 L484.8,317.0" fill="none" stroke-width="0.9"/>
<path d="M810.3,442.1 L795.6,437.0 Q793.0,438.2 794.2,440.8 L809.0,445.9 Z" fill="#000" stroke-width="1.0"/>
<path d="M808.0,443.4 L795.5,439.1" stroke="#fff" stroke-width="1.4" stroke-dasharray="1.4 1.1" stroke-linecap="butt"/>
<ellipse cx="811.6" cy="444.7" rx="3.4" ry="4.4" fill="#fff" stroke-width="2.0" transform="rotate(-48.3 811.6 444.7)"/>
<path d="M811.2,442.3 C810.0,443.7 810.0,445.7 811.2,447.1 M812.4,443.5 L812.2,445.9" fill="none" stroke-width="0.9"/>
<path d="M837.5,564.7 L822.0,559.5 Q819.5,560.8 820.8,563.3 L836.2,568.5 Z" fill="#000" stroke-width="1.0"/>
<path d="M835.2,566.0 L822.0,561.6" stroke="#fff" stroke-width="1.4" stroke-dasharray="1.4 1.1" stroke-linecap="butt"/>
<ellipse cx="838.8" cy="567.2" rx="3.4" ry="4.4" fill="#fff" stroke-width="2.0" transform="rotate(-48.5 838.8 567.2)"/>
<path d="M838.4,564.8 C837.2,566.2 837.2,568.2 838.4,569.6 M839.6,566.0 L839.4,568.4" fill="none" stroke-width="0.9"/>
<path d="M859.5,603.5 L844.0,598.9 Q841.0,600.5 842.6,603.5 L858.1,608.1 Z" fill="#000" stroke-width="1.0"/>
<path d="M857.0,605.3 L843.9,601.4" stroke="#fff" stroke-width="1.4" stroke-dasharray="1.4 1.1" stroke-linecap="butt"/>
<ellipse cx="860.6" cy="606.4" rx="3.2" ry="4.8" fill="#fff" stroke-width="2.0" transform="rotate(-49.0 860.6 606.4)"/>
<path d="M860.2,603.8 C859.0,605.4 859.0,607.4 860.2,609.0 M861.4,605.2 L861.2,607.6" fill="none" stroke-width="0.9"/>
<path d="M861.6,619.2 L846.2,614.4 Q843.2,616.0 844.8,619.0 L860.1,623.8 Z" fill="#000" stroke-width="1.0"/>
<path d="M859.2,621.0 L846.1,616.9" stroke="#fff" stroke-width="1.4" stroke-dasharray="1.4 1.1" stroke-linecap="butt"/>
<ellipse cx="862.7" cy="622.1" rx="3.2" ry="4.8" fill="#fff" stroke-width="2.0" transform="rotate(-48.8 862.7 622.1)"/>
<path d="M862.3,619.5 C861.1,621.1 861.1,623.1 862.3,624.7 M863.5,620.9 L863.3,623.3" fill="none" stroke-width="0.9"/>
<path d="M850.6,627.8 L835.5,623.5 Q832.5,625.1 834.1,628.1 L849.3,632.4 Z" fill="#000" stroke-width="1.0"/>
<path d="M848.2,629.6 L835.4,626.0" stroke="#fff" stroke-width="1.4" stroke-dasharray="1.4 1.1" stroke-linecap="butt"/>
<ellipse cx="851.8" cy="630.6" rx="3.2" ry="4.8" fill="#fff" stroke-width="2.0" transform="rotate(-49.3 851.8 630.6)"/>
<path d="M851.4,628.0 C850.2,629.6 850.2,631.6 851.4,633.2 M852.6,629.4 L852.4,631.8" fill="none" stroke-width="0.9"/>
<path d="M421.5,172.4 L422.2,187.5 L426.4,187.5 L425.7,172.4 Z" fill="#000" stroke-width="1"/>
<path d="M423.6,175.0 L424.3,186.5" stroke="#fff" stroke-width="1.2" stroke-dasharray="1.4 1.1" stroke-linecap="butt"/>
<rect x="419.2" y="166.6" width="8.8" height="7.2" rx="4.4" ry="3.2" fill="#fff" stroke-width="1.9"/>
<path d="M420.0,170.8 C421.6,172.4 425.6,172.4 427.2,170.8" fill="none" stroke-width="1.1"/>
<ellipse cx="425.2" cy="190.4" rx="5.8" ry="3.4" fill="#fff" stroke-width="2.4"/>
<ellipse cx="425.2" cy="190.4" rx="2.0" ry="1.2" fill="#000" stroke-width="0.6"/>
<path d="M371.2,189.4 L371.4,208.0 L375.0,208.0 L374.8,189.4 Z" fill="#000" stroke-width="1"/>
<path d="M373.0,191.9 L373.2,207.0" stroke="#fff" stroke-width="1.2" stroke-dasharray="1.4 1.1" stroke-linecap="butt"/>
<rect x="369.4" y="184.3" width="7.2" height="6.4" rx="3.6" ry="2.9" fill="#fff" stroke-width="1.9"/>
<path d="M370.2,188.1 C371.0,189.7 375.0,189.7 375.8,188.1" fill="none" stroke-width="1.1"/>
<path d="M357.3,235.0 L357.9,250.5 L361.9,250.5 L361.3,235.0 Z" fill="#000" stroke-width="1"/>
<path d="M359.3,237.6 L359.9,249.5" stroke="#fff" stroke-width="1.2" stroke-dasharray="1.4 1.1" stroke-linecap="butt"/>
<rect x="355.3" y="229.6" width="8.0" height="6.8" rx="4.0" ry="3.1" fill="#fff" stroke-width="1.9"/>
<path d="M356.1,233.6 C357.3,235.2 361.3,235.2 362.5,233.6" fill="none" stroke-width="1.1"/>
<ellipse cx="360" cy="253" rx="5.3" ry="3" fill="#fff" stroke-width="2.4"/>
<ellipse cx="360" cy="253" rx="1.9" ry="1.0" fill="#000" stroke-width="0.6"/>
</g>

</g>
</svg>
</body></html>
